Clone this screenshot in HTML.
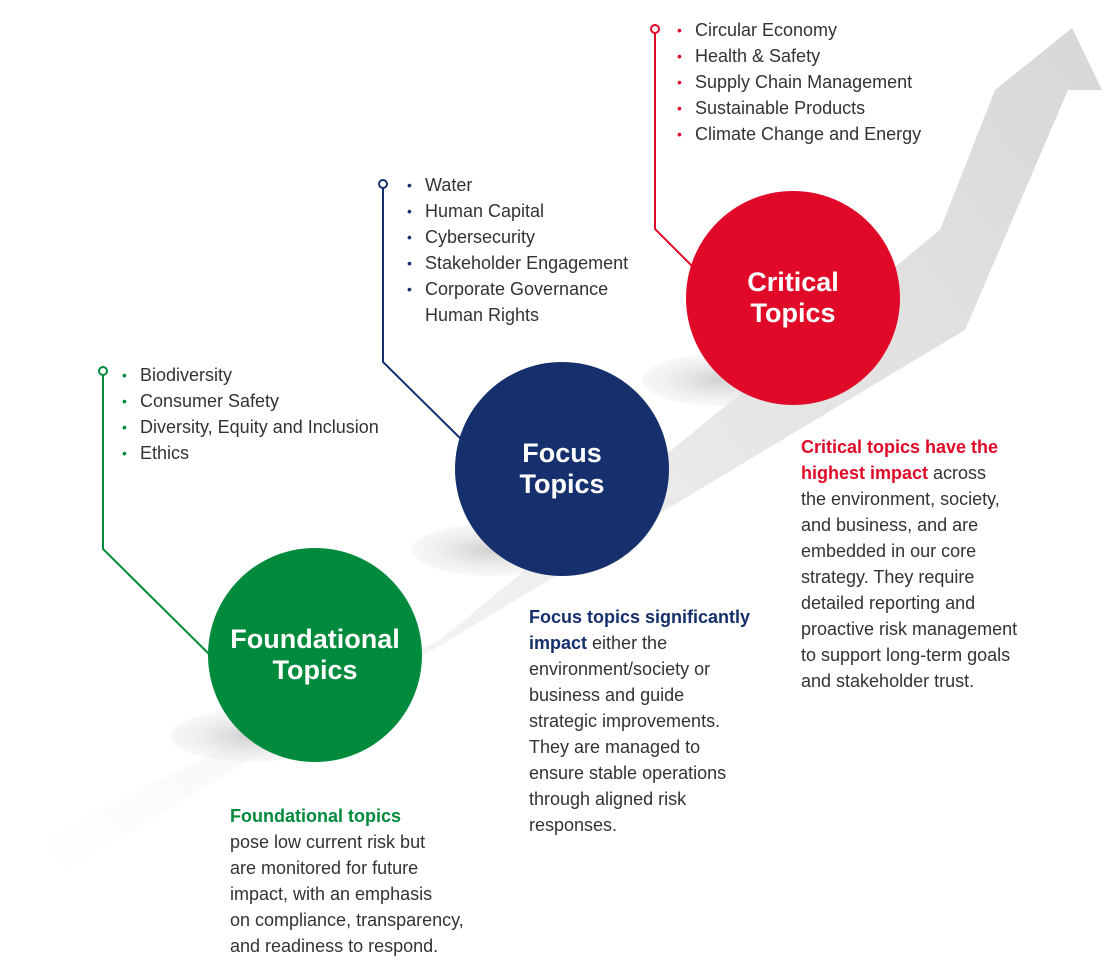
<!DOCTYPE html>
<html><head><meta charset="utf-8"><style>
body{margin:0;width:1120px;height:980px;background:#fff;position:relative;overflow:hidden;font-family:"Liberation Sans",sans-serif;color:#333}
.t{position:absolute;font-size:18px;line-height:26px;white-space:nowrap}
ul{list-style:none;margin:0;padding:0}
li{position:relative}
li:before{content:"•";position:absolute;left:-18px;font-size:14px}
.r li:before{color:#e00a28}.n li:before{color:#15306d}.gg li:before{color:#008a3c}
.n li:last-child:before{content:""}
.c{position:absolute;width:214px;height:214px;border-radius:50%;color:#fff;font-weight:bold;font-size:27px;line-height:31px;display:flex;align-items:center;justify-content:center;text-align:center}
</style></head><body>
<svg width="1120" height="980" style="position:absolute;left:0;top:0">
<defs>
<linearGradient id="g" x1="40" y1="860" x2="1080" y2="60" gradientUnits="userSpaceOnUse">
<stop offset="0" stop-color="#fff"/><stop offset="0.35" stop-color="#f2f2f2"/><stop offset="1" stop-color="#d8d8d8"/></linearGradient>
<radialGradient id="s"><stop offset="0" stop-color="#d0d0d0"/><stop offset="1" stop-color="#e8e8e8" stop-opacity="0.3"/></radialGradient>
</defs>
<polygon points="1072,28 1102,90 1068,90 965,330 50,880 20,850 440,640 940,230 995,90" fill="url(#g)"/>
<ellipse cx="250" cy="736" rx="80" ry="26" fill="url(#s)"/>
<ellipse cx="490" cy="550" rx="78" ry="26" fill="url(#s)"/>
<ellipse cx="720" cy="380" rx="78" ry="26" fill="url(#s)"/>
<polyline points="103,375 103,549 212,657" fill="none" stroke="#008a3c" stroke-width="2"/>
<circle cx="103" cy="371" r="4" fill="#fff" stroke="#008a3c" stroke-width="2"/>
<polyline points="383,188 383,362 462,440" fill="none" stroke="#15306d" stroke-width="2"/>
<circle cx="383" cy="184" r="4" fill="#fff" stroke="#15306d" stroke-width="2"/>
<polyline points="655,33 655,229 694,268" fill="none" stroke="#e00a28" stroke-width="2"/>
<circle cx="655" cy="29" r="4" fill="#fff" stroke="#e00a28" stroke-width="2"/>
</svg>
<div class="c" style="left:208px;top:548px;background:#008a3c">Foundational<br>Topics</div>
<div class="c" style="left:455px;top:362px;background:#15306d">Focus<br>Topics</div>
<div class="c" style="left:686px;top:191px;background:#e00a28">Critical<br>Topics</div>
<ul class="t r" style="left:695px;top:17px"><li>Circular Economy</li><li>Health &amp; Safety</li><li>Supply Chain Management</li><li>Sustainable Products</li><li>Climate Change and Energy</li></ul>
<ul class="t n" style="left:425px;top:172px"><li>Water</li><li>Human Capital</li><li>Cybersecurity</li><li>Stakeholder Engagement</li><li>Corporate Governance</li><li>Human Rights</li></ul>
<ul class="t gg" style="left:140px;top:362px"><li>Biodiversity</li><li>Consumer Safety</li><li>Diversity, Equity and Inclusion</li><li>Ethics</li></ul>
<div class="t" style="left:230px;top:803px"><b style="color:#008a3c">Foundational topics</b><br>pose low current risk but<br>are monitored for future<br>impact, with an emphasis<br>on compliance, transparency,<br>and readiness to respond.</div>
<div class="t" style="left:529px;top:604px"><b style="color:#15306d">Focus topics significantly<br>impact</b> either the<br>environment/society or<br>business and guide<br>strategic improvements.<br>They are managed to<br>ensure stable operations<br>through aligned risk<br>responses.</div>
<div class="t" style="left:801px;top:434px"><b style="color:#e00a28">Critical topics have the<br>highest impact</b> across<br>the environment, society,<br>and business, and are<br>embedded in our core<br>strategy. They require<br>detailed reporting and<br>proactive risk management<br>to support long-term goals<br>and stakeholder trust.</div>
</body></html>
